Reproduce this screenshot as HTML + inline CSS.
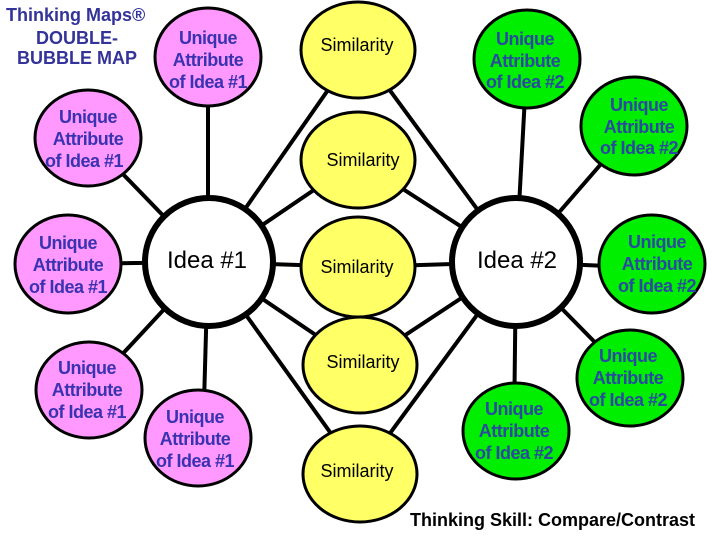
<!DOCTYPE html>
<html><head><meta charset="utf-8"><style>
html,body{margin:0;padding:0;background:#fff;}
svg{display:block;}
text{font-family:"Liberation Sans",Arial,sans-serif;}
.u{font-weight:bold;font-size:18px;fill:#3a32b0;text-anchor:middle;letter-spacing:-0.5px;}
.g{font-weight:bold;font-size:18px;fill:#2a4aa0;text-anchor:middle;letter-spacing:-0.5px;}
.s{font-size:18px;fill:#000;text-anchor:middle;}
</style></head><body>
<svg width="720" height="540" viewBox="0 0 720 540" xmlns="http://www.w3.org/2000/svg">
<g stroke="#000" stroke-width="4">
<line x1="208" y1="262" x2="208" y2="57"/>
<line x1="208" y1="262" x2="88" y2="138"/>
<line x1="208" y1="262" x2="68" y2="264"/>
<line x1="208" y1="262" x2="89" y2="390"/>
<line x1="208" y1="262" x2="203" y2="438"/>
<line x1="208" y1="262" x2="358" y2="47"/>
<line x1="208" y1="262" x2="358" y2="160"/>
<line x1="208" y1="262" x2="358" y2="267"/>
<line x1="208" y1="262" x2="360" y2="365"/>
<line x1="208" y1="262" x2="360" y2="474"/>
<line x1="516" y1="262" x2="358" y2="47"/>
<line x1="516" y1="262" x2="358" y2="160"/>
<line x1="516" y1="262" x2="358" y2="267"/>
<line x1="516" y1="262" x2="360" y2="365"/>
<line x1="516" y1="262" x2="360" y2="474"/>
<line x1="516" y1="262" x2="527" y2="59"/>
<line x1="516" y1="262" x2="634" y2="126"/>
<line x1="516" y1="262" x2="652" y2="268"/>
<line x1="516" y1="262" x2="630" y2="378"/>
<line x1="516" y1="262" x2="514" y2="431"/>
</g>
<g stroke="#000" stroke-width="3" fill="#ff99ff">
<ellipse cx="208" cy="57" rx="53" ry="49"/>
<ellipse cx="88" cy="138" rx="53" ry="48"/>
<ellipse cx="68" cy="264" rx="53" ry="49"/>
<ellipse cx="89" cy="390" rx="53" ry="48"/>
<ellipse cx="198" cy="438" rx="53" ry="48"/>
</g>
<g stroke="#000" stroke-width="3" fill="#ffff66">
<ellipse cx="358" cy="50" rx="57" ry="48"/>
<ellipse cx="358" cy="160" rx="57" ry="48"/>
<ellipse cx="358" cy="267" rx="57" ry="50"/>
<ellipse cx="360" cy="365" rx="57" ry="48"/>
<ellipse cx="360" cy="474" rx="57" ry="48"/>
</g>
<g stroke="#000" stroke-width="3" fill="#00ee00">
<ellipse cx="527" cy="59" rx="53" ry="49"/>
<ellipse cx="634" cy="126" rx="53" ry="49"/>
<ellipse cx="652" cy="264" rx="53" ry="49"/>
<ellipse cx="630" cy="378" rx="53" ry="48"/>
<ellipse cx="516" cy="431" rx="53" ry="48"/>
</g>
<g stroke="#000" stroke-width="6" fill="#fff">
<circle cx="209" cy="262" r="64"/>
<circle cx="516" cy="262" r="64"/>
</g>
<text x="207" y="268" style="font-size:24px;text-anchor:middle">Idea #1</text>
<text x="517" y="268" style="font-size:24px;text-anchor:middle">Idea #2</text>
<g style="font-weight:bold;font-size:18px;fill:#333399">
<text x="6" y="21">Thinking Maps®</text>
<text x="77" y="44" text-anchor="middle">DOUBLE-</text>
<text x="77" y="64" text-anchor="middle">BUBBLE MAP</text>
</g>
<text class="u" x="208" y="44">Unique</text><text class="u" x="208" y="66">Attribute</text><text class="u" x="208" y="88">of Idea #1</text>
<text class="u" x="88" y="123">Unique</text><text class="u" x="88" y="145">Attribute</text><text class="u" x="84" y="167">of Idea #1</text>
<text class="u" x="68" y="249">Unique</text><text class="u" x="68" y="271">Attribute</text><text class="u" x="68" y="293">of Idea #1</text>
<text class="u" x="87" y="374">Unique</text><text class="u" x="87" y="396">Attribute</text><text class="u" x="87" y="418">of Idea #1</text>
<text class="u" x="195" y="423">Unique</text><text class="u" x="195" y="445">Attribute</text><text class="u" x="195" y="467">of Idea #1</text>
<text class="g" x="525" y="45">Unique</text><text class="g" x="525" y="67">Attribute</text><text class="g" x="525" y="88">of Idea #2</text>
<text class="g" x="639" y="111">Unique</text><text class="g" x="639" y="133">Attribute</text><text class="g" x="639" y="154">of Idea #2</text>
<text class="g" x="657" y="248">Unique</text><text class="g" x="657" y="270">Attribute</text><text class="g" x="657" y="292">of Idea #2</text>
<text class="g" x="628" y="362">Unique</text><text class="g" x="628" y="384">Attribute</text><text class="g" x="628" y="406">of Idea #2</text>
<text class="g" x="514" y="415">Unique</text><text class="g" x="514" y="437">Attribute</text><text class="g" x="514" y="459">of Idea #2</text>
<text class="s" x="357" y="51">Similarity</text>
<text class="s" x="363" y="166">Similarity</text>
<text class="s" x="357" y="273">Similarity</text>
<text class="s" x="363" y="368">Similarity</text>
<text class="s" x="357" y="477">Similarity</text>
<text x="410" y="526" style="font-weight:bold;font-size:18px;fill:#000">Thinking Skill:  Compare/Contrast</text>
</svg>
</body></html>
